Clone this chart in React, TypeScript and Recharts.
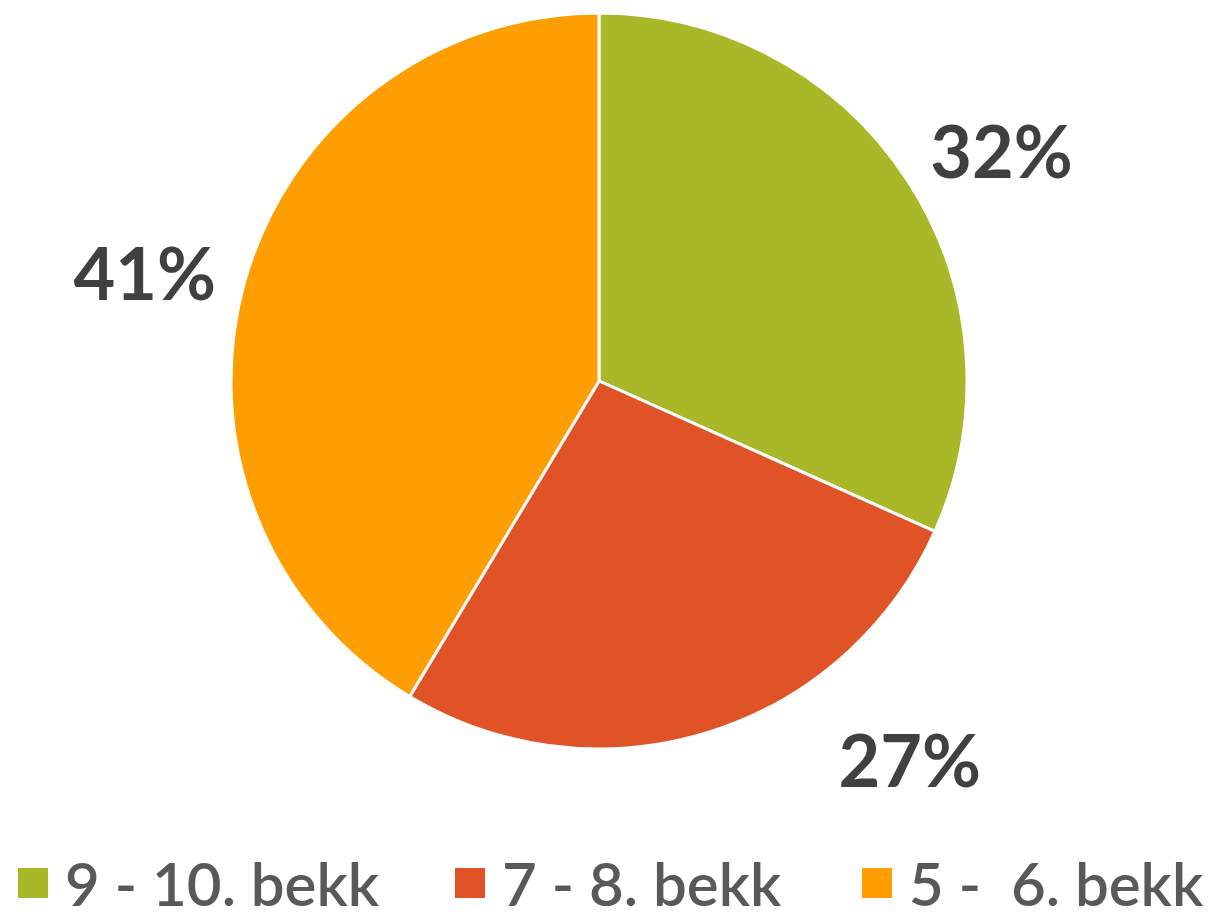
import React from "react";
import { Cell, Pie, PieChart } from "recharts";

const categories = ["9 - 10. bekk", "7 - 8. bekk", "5 -  6. bekk"];
const shares = [31.7, 26.9, 41.4];
const COLORS = ["#a8b828", "#e05327", "#fe9e00"];

const rows = categories.map((name, i) => ({ name, value: shares[i] }));

// label nudges (Excel's best-fit placement differs from the pure mid angle)
const LABEL_ANGLE_SHIFT = [-3.1, 22, 2];
const LABEL_RADIUS_EXTRA = [96, 121, 99];
const LEGEND_LEFT = [18, 455, 862];

const RAD = Math.PI / 180;

function renderLabel(props: any) {
  const { cx, cy, midAngle, outerRadius, value, index } = props;
  const a = midAngle + (LABEL_ANGLE_SHIFT[index] ?? 0);
  const r = outerRadius + (LABEL_RADIUS_EXTRA[index] ?? 100);
  const x = cx + r * Math.cos(-a * RAD);
  const y = cy + r * Math.sin(-a * RAD);
  return (
    <text
      x={x}
      y={y}
      fill="#404040"
      textAnchor="middle"
      dominantBaseline="central"
      style={{ fontFamily: "Lato, sans-serif", fontWeight: 700, fontSize: 72 }}
    >
      {Math.round(value)}%
    </text>
  );
}

function LegendBlock() {
  return (
    <>
      {rows.map((r, i) => (
        <div
          key={r.name}
          style={{ position: "absolute", left: LEGEND_LEFT[i], top: 848, display: "flex", alignItems: "center" }}
        >
          <span style={{ width: 30, height: 30, background: COLORS[i], display: "inline-block", marginRight: 17 }} />
          <span
            style={{
              fontFamily: "Lato, sans-serif",
              fontWeight: 600,
              fontSize: 60,
              lineHeight: "70px",
              color: "#595959",
              whiteSpace: "pre",
            }}
          >
            {r.name}
          </span>
        </div>
      ))}
    </>
  );
}

export default function App() {
  return (
    <div style={{ position: "absolute", left: 0, top: 0, width: 1216, height: 917, background: "#fff" }}>
      <PieChart width={1216} height={917} margin={{ top: 0, right: 0, bottom: 0, left: 0 }}>
        <Pie
          data={rows}
          dataKey="value"
          nameKey="name"
          cx={599}
          cy={381}
          outerRadius={368}
          startAngle={90}
          endAngle={-270}
          stroke="#ffffff"
          strokeWidth={3}
          label={renderLabel}
          labelLine={false}
          isAnimationActive={false}
        >
          {rows.map((_, i) => (
            <Cell key={i} fill={COLORS[i]} />
          ))}
        </Pie>
      </PieChart>
      <LegendBlock />
    </div>
  );
}
